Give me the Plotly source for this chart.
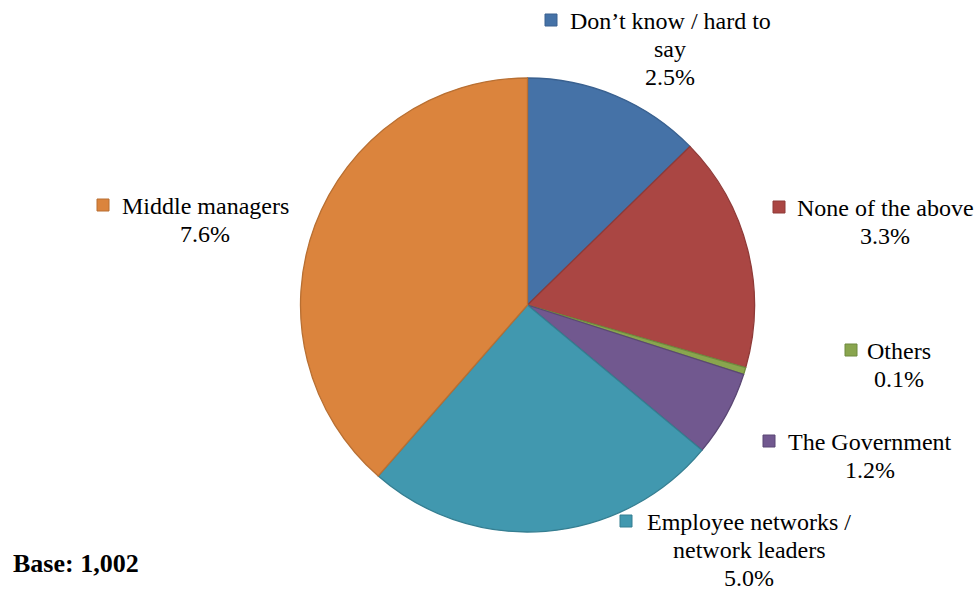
import plotly.graph_objects as go

W, H = 979, 594

categories = ["Don’t know / hard to say", "None of the above", "Others",
              "The Government", "Employee networks / network leaders", "Middle managers"]
label_lines = [["Don’t know / hard to", "say"], ["None of the above"], ["Others"],
               ["The Government"], ["Employee networks /", "network leaders"], ["Middle managers"]]
values = [2.5, 3.3, 0.1, 1.2, 5.0, 7.6]
base_text = "Base: 1,002"

fills = ["#4572A7", "#AA4643", "#89A54E", "#71588F", "#4198AF", "#DB843D"]
edges = ["#3A6190", "#8F3A38", "#6F8A3E", "#5B4774", "#357E91", "#B86F32"]

def px(x):
    return x / W

def py(y):
    return 1 - y / H

fig = go.Figure()
fig.add_trace(go.Pie(
    labels=categories, values=values, sort=False, direction="clockwise", rotation=0,
    textinfo="none", hoverinfo="label+value",
    marker=dict(colors=fills, line=dict(color=edges, width=1.3)),
    domain=dict(x=[px(300), px(755)], y=[py(532), py(78)]),
    showlegend=False,
))

# label layout: text centre x, first line centre y, square left x
label_pos = [
    (670, 20, 545),
    (885, 207, 773),
    (899, 350, 845),
    (870, 441, 763),
    (749, 521, 620),
    (205, 205, 97),
]
LINE = 27.8

font = dict(family="Liberation Serif", size=24, color="#000000")
for lines, val, (cx, y0, sx), fc, ec in zip(label_lines, values, label_pos, fills, edges):
    all_lines = lines + [f"{val:.1f}%"]
    for i, t in enumerate(all_lines):
        fig.add_annotation(x=px(cx), y=py(y0 + i * LINE + 1), xref="paper", yref="paper",
                           text=t, showarrow=False,
                           xanchor="center", yanchor="middle", align="center", font=font)
    fig.add_shape(type="rect", xref="paper", yref="paper",
                  x0=px(sx), x1=px(sx + 12), y0=py(y0 + 6), y1=py(y0 - 6),
                  fillcolor=fc, line=dict(color=ec, width=1))

fig.add_annotation(x=px(11), y=py(563), xref="paper", yref="paper", text=f"<b>{base_text}</b>",
                   showarrow=False, xanchor="left", yanchor="middle",
                   font=dict(family="Liberation Serif", size=26, color="#000000"))

fig.update_layout(width=W, height=H, margin=dict(l=0, r=0, t=0, b=0),
                  paper_bgcolor="white", plot_bgcolor="white")
fig.write_html("out.html")
